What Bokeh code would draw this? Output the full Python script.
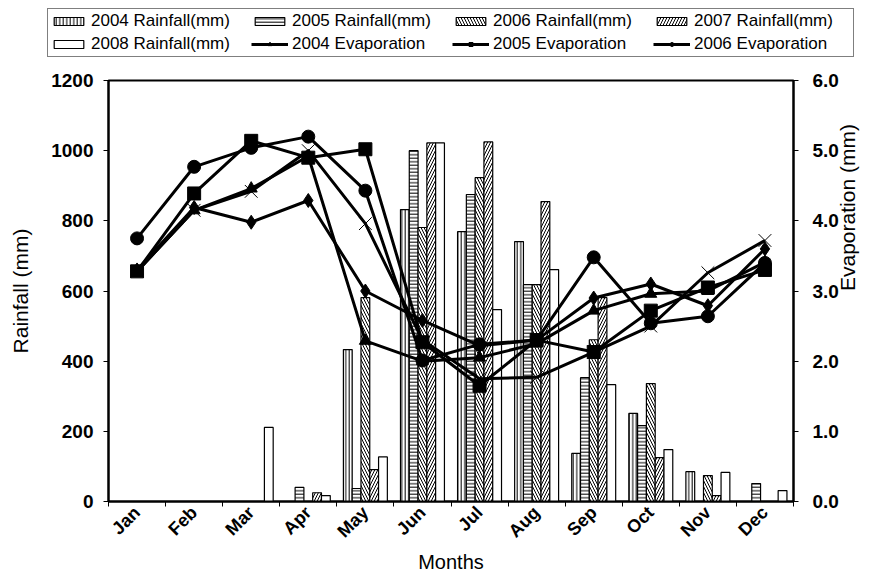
import math
from bokeh.plotting import figure
from bokeh.layouts import column
from bokeh.models import (ColumnDataSource, Range1d, LinearAxis, FixedTicker,
                          Legend, LegendItem, NumeralTickFormatter)
from bokeh.transform import dodge
from bokeh.embed import file_html
from bokeh.resources import INLINE

months = ["Jan", "Feb", "Mar", "Apr", "May", "Jun", "Jul", "Aug", "Sep", "Oct", "Nov", "Dec"]
month_pos = [1, 2, 3, 4, 5, 6, 7, 8, 9, 10, 11, 12]

rain_2004 = [0, 0, 0, 0, 433, 832, 769, 741, 137, 251, 85, 0]
rain_2005 = [0, 0, 0, 40, 37, 1000, 875, 618, 353, 216, 0, 51]
rain_2006 = [0, 0, 0, 0, 581, 781, 923, 618, 461, 336, 74, 0]
rain_2007 = [0, 0, 0, 25, 91, 1022, 1025, 855, 581, 125, 17, 0]
rain_2008 = [0, 0, 211, 17, 127, 1022, 547, 661, 333, 148, 83, 31]

evap_2004 = [3.28, 4.15, 4.46, 4.92, 2.29, 2.00, 2.05, 2.25, 2.72, 2.96, 3.00, 3.41]
evap_2005 = [3.28, 4.39, 5.14, 4.90, 5.02, 2.27, 1.65, 2.30, 2.13, 2.72, 3.05, 3.30]
evap_2006 = [3.75, 4.77, 5.04, 5.20, 4.43, 2.01, 2.24, 2.30, 3.48, 2.54, 2.64, 3.40]
evap_2007 = [3.30, 4.19, 3.98, 4.29, 3.00, 2.58, 2.22, 2.30, 2.90, 3.10, 2.79, 3.60]
evap_2008 = [3.28, 4.15, 4.42, 5.00, 3.96, 2.30, 1.75, 1.77, 2.13, 2.50, 3.26, 3.72]

rain_ticks = [0, 200, 400, 600, 800, 1000, 1200]
evap_ticks = [0, 1, 2, 3, 4, 5, 6]

src = ColumnDataSource(dict(
    x=month_pos,
    r2004=rain_2004, r2005=rain_2005, r2006=rain_2006, r2007=rain_2007, r2008=rain_2008,
    e2004=evap_2004, e2005=evap_2005, e2006=evap_2006, e2007=evap_2007, e2008=evap_2008,
))

bar_specs = [
    ("r2004", "vertical_line", 3.5, "2004 Rainfall(mm)"),
    ("r2005", "horizontal_line", 3.5, "2005 Rainfall(mm)"),
    ("r2006", "left_diagonal_line", 6, "2006 Rainfall(mm)"),
    ("r2007", "right_diagonal_line", 6, "2007 Rainfall(mm)"),
    ("r2008", " ", 6, "2008 Rainfall(mm)"),
]
line_specs = [
    ("e2004", "triangle", 12, "2004 Evaporation"),
    ("e2005", "square", 13, "2005 Evaporation"),
    ("e2006", "circle", 13, "2006 Evaporation"),
    ("e2007", "diamond", 14, None),
    ("e2008", "x", 18, None),
]

# ---------------- main chart ----------------
p = figure(frame_width=685, frame_height=421, output_backend="svg", toolbar_location=None,
           x_range=Range1d(0.5, 12.5), y_range=Range1d(0, 1200),
           min_border_left=108, min_border_right=78, min_border_top=12, min_border_bottom=70)
p.extra_y_ranges = {"evap": Range1d(0, 6)}
p.xgrid.visible = False
p.ygrid.visible = False
p.outline_line_color = "black"
p.outline_line_width = 2

bw = 0.154
for i, (col, hatch, hs, lab) in enumerate(bar_specs):
    off = (i - 2) * bw
    p.vbar(x=dodge("x", off, range=p.x_range), top=col, bottom=0, width=bw, source=src,
           fill_color="white", line_color="black", line_width=1.2,
           hatch_pattern=hatch, hatch_color="black", hatch_scale=hs, hatch_weight=1)

for col, mk, sz, lab in line_specs:
    p.line(x="x", y=col, source=src, y_range_name="evap", line_color="black", line_width=3)
    if mk == "x":
        p.scatter(x="x", y=col, source=src, y_range_name="evap", marker=mk, size=sz,
                  line_color="black", line_width=1)
    else:
        p.scatter(x="x", y=col, source=src, y_range_name="evap", marker=mk, size=sz,
                  fill_color="black", line_color="black")

tick_font = "Liberation Sans"
xax = p.xaxis[0]
xax.ticker = FixedTicker(ticks=month_pos, minor_ticks=[m - 0.5 for m in month_pos] + [12.5])
xax.major_label_overrides = {m: n for m, n in zip(month_pos, months)}
xax.major_label_orientation = math.pi / 4
xax.major_tick_line_color = None
xax.minor_tick_line_color = "black"
xax.minor_tick_out = 5
xax.minor_tick_in = 0
xax.axis_line_width = 2
xax.major_label_text_font = tick_font
xax.major_label_text_font_style = "bold"
xax.major_label_text_font_size = "18px"
xax.major_label_text_color = "black"
xax.major_label_standoff = 2
xax.axis_label = "Months"
xax.axis_label_text_font = tick_font
xax.axis_label_text_font_style = "normal"
xax.axis_label_text_font_size = "20px"
xax.axis_label_text_color = "black"
xax.axis_label_standoff = 0

yax = p.yaxis[0]
yax.ticker = FixedTicker(ticks=rain_ticks)
yax.minor_tick_line_color = None
yax.major_tick_out = 5
yax.major_tick_in = 0
yax.axis_line_width = 2
yax.major_label_text_font = tick_font
yax.major_label_text_font_style = "bold"
yax.major_label_text_font_size = "19px"
yax.major_label_text_color = "black"
yax.major_label_standoff = 10
yax.axis_label = "Rainfall (mm)"
yax.axis_label_text_font = tick_font
yax.axis_label_text_font_style = "normal"
yax.axis_label_text_font_size = "21px"
yax.axis_label_text_color = "black"
yax.axis_label_standoff = 16

rax = LinearAxis(y_range_name="evap", ticker=FixedTicker(ticks=evap_ticks),
                 formatter=NumeralTickFormatter(format="0.0"))
rax.minor_tick_line_color = None
rax.major_tick_out = 5
rax.major_tick_in = 0
rax.axis_line_width = 2
rax.major_label_text_font = tick_font
rax.major_label_text_font_style = "bold"
rax.major_label_text_font_size = "19px"
rax.major_label_text_color = "black"
rax.major_label_standoff = 14
rax.axis_label = "Evaporation (mm)"
rax.axis_label_orientation = math.pi / 2
rax.axis_label_text_font = tick_font
rax.axis_label_text_font_style = "normal"
rax.axis_label_text_font_size = "21px"
rax.axis_label_text_color = "black"
rax.axis_label_standoff = 6
p.add_layout(rax, "right")

# ---------------- legend strip ----------------
lg = figure(width=871, height=68, output_backend="svg", toolbar_location=None,
            x_range=Range1d(0, 1), y_range=Range1d(0, 1),
            min_border=0, min_border_left=0, min_border_right=0,
            min_border_top=0, min_border_bottom=0)
lg.axis.visible = False
lg.grid.visible = False
lg.outline_line_color = None
for fig in (lg, p):
    try:
        fig.frame_align = False
    except Exception:
        pass
hidden = ColumnDataSource(dict(x=[-5], y=[-5]))

items = []
for col, hatch, hs, lab in bar_specs:
    r = lg.vbar(x="x", top="y", bottom=-6, width=0.1, source=hidden,
                fill_color="white", line_color="black", line_width=1.2,
                hatch_pattern=hatch, hatch_color="black", hatch_scale=hs, hatch_weight=1)
    items.append(LegendItem(label=lab, renderers=[r]))
for col, mk, sz, lab in line_specs:
    if lab is None:
        continue
    lr = lg.line(x="x", y="y", source=hidden, line_color="black", line_width=3)
    sr = lg.scatter(x="x", y="y", source=hidden, marker=mk, size=sz,
                    fill_color="black", line_color="black")
    items.append(LegendItem(label=lab, renderers=[lr, sr]))

legend = Legend(items=items, location=(47, 11), orientation="horizontal", ncols=4, nrows=2,
                glyph_width=37, glyph_height=10, label_standoff=4, spacing=3,
                padding=2, margin=0, label_height=17, label_width=157,
                label_text_font=tick_font, label_text_font_size="17px",
                label_text_color="black",
                border_line_color="black", border_line_width=1.5,
                background_fill_color="white", background_fill_alpha=1)
lg.add_layout(legend, "center")

layout = column(lg, p, spacing=0)
open("out.html", "w").write(file_html(layout, INLINE))
